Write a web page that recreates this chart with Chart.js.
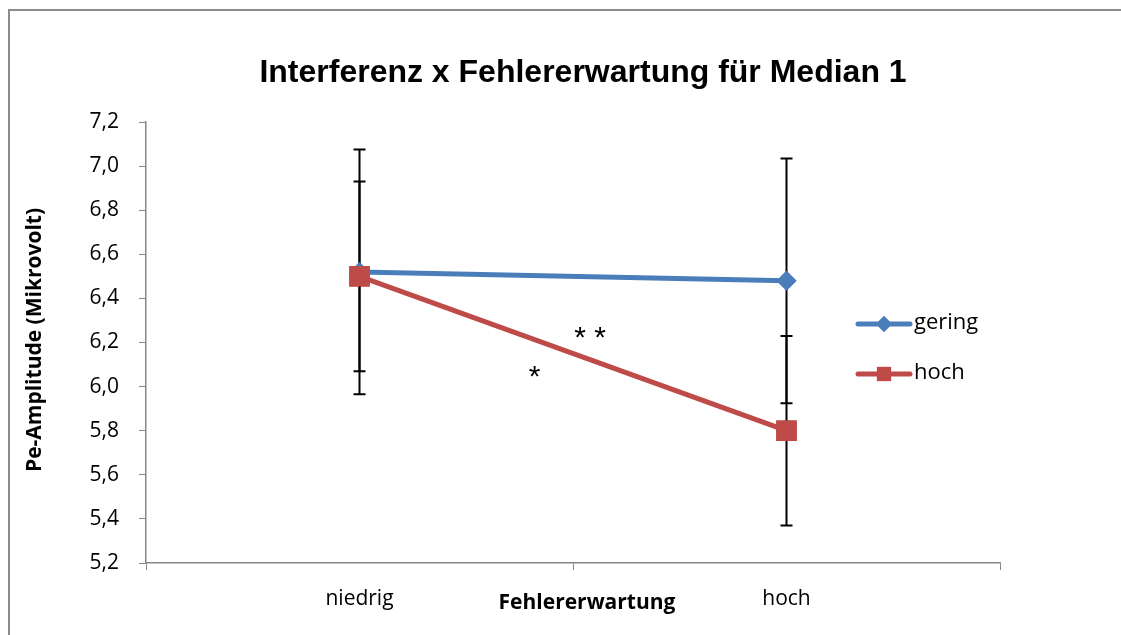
<!DOCTYPE html>
<html>
<head>
<meta charset="utf-8">
<script src="https://cdn.jsdelivr.net/npm/chart.js@4/dist/chart.umd.min.js"></script>
<style>
  html, body { margin: 0; padding: 0; background: #fff; }
  #wrap { position: relative; width: 1121px; height: 635px; }
  #frame { position: absolute; left: 8px; top: 9px; width: 1200px; height: 700px;
           border-left: 2px solid #8c8c8c; border-top: 2px solid #8c8c8c; }
</style>
</head>
<body>
<div id="wrap">
  <div id="frame"></div>
  <canvas id="chart" width="1121" height="635"></canvas>
</div>
<script>
const categories = ["niedrig", "hoch"];
const geringValues = [6.52, 6.48];
const hochValues = [6.50, 5.80];
const geringErrors = [0.555, 0.555];
const hochErrors = [0.43, 0.43];
const yTicks = { min: 5.2, max: 7.2, step: 0.2 };

// significance marks: [text, category position, y value]
const stars = [
  ["* *", 0.54, 6.25],
  ["*", 0.41, 6.07],
];

const tickFont = { family: "'Open Sans', sans-serif", size: 21 };
const axisGrey = "#868686";

const overlayPlugin = {
  id: "overlay",
  afterDatasetsDraw(chart) {
    const { ctx, scales } = chart;
    const x = scales.x, y = scales.y;

    // error bars
    ctx.save();
    ctx.strokeStyle = "#000";
    ctx.lineWidth = 2;
    const drawErr = (vals, errs) => {
      vals.forEach((v, i) => {
        const px = x.getPixelForValue(i);
        const top = y.getPixelForValue(v + errs[i]);
        const bot = y.getPixelForValue(v - errs[i]);
        ctx.beginPath();
        ctx.moveTo(px, top); ctx.lineTo(px, bot);
        ctx.moveTo(px - 6, top); ctx.lineTo(px + 6, top);
        ctx.moveTo(px - 6, bot); ctx.lineTo(px + 6, bot);
        ctx.stroke();
      });
    };
    drawErr(geringValues, geringErrors);
    drawErr(hochValues, hochErrors);
    ctx.restore();
  },
  afterDraw(chart) {
    const { ctx, scales } = chart;
    const x = scales.x, y = scales.y;
    ctx.save();
    // redraw markers above error bars
    chart.data.datasets.forEach((ds, di) => {
      chart.getDatasetMeta(di).data.forEach((pt) => pt.draw(ctx, chart.chartArea));
    });

    // stars
    ctx.fillStyle = "#000";
    ctx.font = "30px 'Liberation Sans', sans-serif";
    ctx.textAlign = "center";
    ctx.textBaseline = "middle";
    stars.forEach(([t, cx, cy]) => {
      ctx.fillText(t, x.getPixelForValue(cx), y.getPixelForValue(cy) + 7);
    });

    // title
    ctx.font = "bold 32px 'Liberation Sans', Arial, sans-serif";
    ctx.fillText("Interferenz x Fehlererwartung für Median 1", 583, 73);

    // axis titles
    ctx.font = "bold 21px 'Open Sans', sans-serif";
    ctx.fillText("Fehlererwartung", 587, 603);
    ctx.translate(35, 340);
    ctx.rotate(-Math.PI / 2);
    ctx.fillText("Pe-Amplitude (Mikrovolt)", 0, 0);
    ctx.setTransform(1, 0, 0, 1, 0, 0);

    // legend
    const legend = [[chart.data.datasets[0], 324], [chart.data.datasets[1], 374]];
    legend.forEach(([ds, ly]) => {
      ctx.strokeStyle = ds.borderColor;
      ctx.lineWidth = 5;
      ctx.lineCap = "round";
      ctx.beginPath();
      ctx.moveTo(858, ly); ctx.lineTo(910, ly);
      ctx.stroke();
      ctx.fillStyle = ds.backgroundColor;
      const r = ds.pointStyle === "rect" ? 10 : 8;
      Chart.helpers.drawPoint(ctx, { pointStyle: ds.pointStyle, radius: r, borderWidth: 0 }, 884, ly);
      ctx.fill();
      ctx.fillStyle = "#000";
      ctx.textAlign = "left";
      ctx.font = "22px 'Open Sans', sans-serif";
      ctx.fillText(ds.label, 914, ly - 1);
    });
    ctx.restore();
  },
};

new Chart(document.getElementById("chart"), {
  type: "line",
  data: {
    labels: categories,
    datasets: [
      {
        label: "gering",
        data: geringValues,
        borderColor: "#4A7EBB",
        backgroundColor: "#4A7EBB",
        borderWidth: 5,
        pointStyle: "rectRot",
        pointRadius: 10,
        pointBorderWidth: 0,
      },
      {
        label: "hoch",
        data: hochValues,
        borderColor: "#BE4B48",
        backgroundColor: "#BE4B48",
        borderWidth: 5,
        pointStyle: "rect",
        pointRadius: 14.5,
        pointBorderWidth: 0,
      },
    ],
  },
  options: {
    responsive: false,
    animation: false,
    layout: { padding: { left: 0, right: 121, top: 122, bottom: 0 } },
    plugins: {
      legend: { display: false },
      title: { display: false },
      tooltip: { enabled: false },
    },
    scales: {
      x: {
        offset: true,
        grid: { offset: true, drawOnChartArea: false, color: axisGrey, tickLength: 7 },
        border: { color: axisGrey, width: 1.5 },
        ticks: { color: "#000", font: tickFont, padding: 16 },
        afterFit(s) { s.height = 72; },
      },
      y: {
        min: yTicks.min,
        max: yTicks.max,
        grid: { drawOnChartArea: false, color: axisGrey, tickLength: 7 },
        border: { color: axisGrey, width: 1.5 },
        ticks: {
          stepSize: yTicks.step,
          color: "#000",
          font: tickFont,
          padding: 20,
          callback: (v) => v.toFixed(1).replace(".", ","),
        },
        afterFit(s) { s.width = 146; },
      },
    },
  },
  plugins: [overlayPlugin],
});
</script>
</body>
</html>
